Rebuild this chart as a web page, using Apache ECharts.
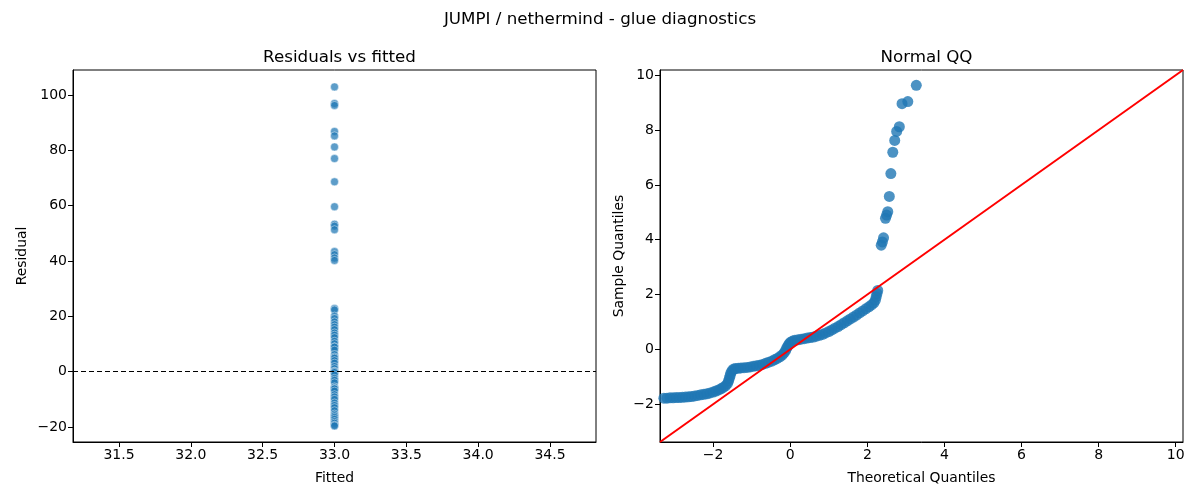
<!DOCTYPE html>
<html>
<head>
<meta charset="utf-8">
<script src="https://cdn.jsdelivr.net/npm/echarts@6/dist/echarts.min.js"></script>
<style>
html, body { margin: 0; padding: 0; background: #fff; }
#chart { width: 1200px; height: 500px; }
</style>
</head>
<body>
<div id="chart"></div>
<script>
// left panel: every residual sits at the same fitted value
var fittedValue = 33.0;
var residuals = [
    102.9, 96.9, 96.2, 86.8, 85.2, 81.2, 77.0, 68.6, 59.6, 53.3, 52.6, 51.3,
    43.4, 42.3, 41.1, 40.2,
    22.8, 22.3, 20.1, 19.2, 18.0, 17.0, 16.1, 15.2, 14.0, 13.2, 12.3, 11.0,
    10.1, 9.0, 8.9, 7.8, 6.2, 5.3, 4.9, 4.0, 3.1, 1.9, 1.1, 0.2, 0.0, -0.3,
    -1.2, -2.4, -3.1, -4.0, -5.5, -6.0, -6.2, -7.0, -8.3, -9.1, -10.0, -11.3,
    -12.2, -13.0, -14.1, -15.3, -15.9, -16.5, -17.2, -18.0, -18.6, -19.3, -19.6
];
var fittedTicks = [31.5, 32.0, 32.5, 33.0, 33.5, 34.0, 34.5];
var residualTicks = [-20, 0, 20, 40, 60, 80, 100];

// right panel: points
var qqTheoretical = [
    -3.28, -3.20, -3.12, -3.04, -2.96, -2.88, -2.80, -2.72, -2.64, -2.56, -2.48, -2.40,
    -2.32, -2.24, -2.16, -2.08, -2.00, -1.93, -1.86, -1.80, -1.74, -1.68, -1.63,
    -1.60, -1.58, -1.56, -1.54, -1.51, -1.47,
    -1.42, -1.35, -1.28, -1.20, -1.12, -1.04, -0.96, -0.88, -0.80, -0.72, -0.64,
    -0.56, -0.48, -0.41, -0.34, -0.27, -0.21,
    -0.16, -0.12, -0.09, -0.06, -0.03, 0.01, 0.06,
    0.12, 0.20, 0.28, 0.36, 0.44, 0.52, 0.60, 0.68, 0.76, 0.84, 0.92, 1.00, 1.08,
    1.16, 1.24, 1.32, 1.40, 1.48, 1.56, 1.64, 1.72, 1.80, 1.88, 1.96, 2.04, 2.11,
    2.17, 2.21, 2.23, 2.25, 2.27,
    2.36, 2.39, 2.42, 2.47, 2.50, 2.53, 2.57, 2.61, 2.66, 2.71, 2.76, 2.83, 2.90,
    3.05, 3.27
];
var qqSample = [
    -1.78, -1.78, -1.77, -1.77, -1.76, -1.76, -1.75, -1.74, -1.73, -1.72, -1.70, -1.68,
    -1.66, -1.64, -1.62, -1.59, -1.56, -1.52, -1.48, -1.44, -1.39, -1.33, -1.25,
    -1.15, -1.05, -0.95, -0.86, -0.78, -0.72,
    -0.70, -0.69, -0.68, -0.67, -0.66, -0.64, -0.62, -0.60, -0.58, -0.55, -0.51,
    -0.47, -0.43, -0.38, -0.33, -0.27, -0.21,
    -0.13, -0.04, 0.05, 0.13, 0.20, 0.26, 0.30,
    0.33, 0.35, 0.37, 0.39, 0.41, 0.43, 0.45, 0.48, 0.51, 0.55, 0.60, 0.65, 0.71,
    0.77, 0.83, 0.90, 0.97, 1.04, 1.11, 1.18, 1.25, 1.33, 1.40, 1.48, 1.55, 1.62,
    1.70, 1.80, 1.92, 2.04, 2.15,
    3.80, 3.92, 4.07, 4.78, 4.90, 5.02, 5.58, 6.41, 7.19, 7.62, 7.95, 8.12, 8.96,
    9.04, 9.63
];
var qqTicks = [-2, 0, 2, 4, 6, 8, 10];
var qqLimits = [-3.38, 10.19];

var FONT = 'DejaVu Sans';

function minus(v, digits) {
    var s = digits ? Math.abs(v).toFixed(digits) : String(Math.abs(v));
    return (v < 0 ? '\u2212' : '') + s;
}

function axis(ticks, fmt, extra) {
    var a = {
        axisLine: { show: true, onZero: false, lineStyle: { color: '#000', width: 1 } },
        axisTick: { show: true, length: 5, lineStyle: { color: '#000', width: 1 }, customValues: ticks },
        axisLabel: { color: '#000', fontSize: 14, fontFamily: FONT, margin: 6, customValues: ticks, formatter: fmt },
        splitLine: { show: false },
        nameLocation: 'middle',
        nameTextStyle: { color: '#000', fontSize: 13.9, fontFamily: FONT }
    };
    for (var k in extra) a[k] = extra[k];
    return a;
}

var residualData = residuals.map(function (r) { return [fittedValue, r]; });
var qqData = qqTheoretical.map(function (t, i) { return [t, qqSample[i]]; });

var chart = echarts.init(document.getElementById('chart'));
var option = {
    animation: false,
    backgroundColor: '#fff',
    title: [
        { text: 'JUMPI / nethermind - glue diagnostics', left: 'center', top: 6,
          textStyle: { fontFamily: FONT, fontWeight: 'normal', fontSize: 16.7, color: '#000' } },
        { text: 'Residuals vs fitted', left: 334.5, textAlign: 'center', top: 44,
          textStyle: { fontFamily: FONT, fontWeight: 'normal', fontSize: 16.7, color: '#000' } },
        { text: 'Normal QQ', left: 921.5, textAlign: 'center', top: 44,
          textStyle: { fontFamily: FONT, fontWeight: 'normal', fontSize: 16.7, color: '#000' } }
    ],
    grid: [
        { left: 73, top: 70, width: 523, height: 372, show: true, borderColor: '#000', borderWidth: 1 },
        { left: 660, top: 70, width: 523, height: 372, show: true, borderColor: '#000', borderWidth: 1 }
    ],
    xAxis: [
        axis(fittedTicks, function (v) { return minus(v, 1); },
            { type: 'value', gridIndex: 0, min: 31.18, max: 34.82, name: 'Fitted', nameGap: 29 }),
        axis(qqTicks, function (v) { return minus(v); },
            { type: 'value', gridIndex: 1, min: qqLimits[0], max: qqLimits[1], name: 'Theoretical Quantiles', nameGap: 29 })
    ],
    yAxis: [
        axis(residualTicks, function (v) { return minus(v); },
            { type: 'value', gridIndex: 0, min: -25.4, max: 109.0, name: 'Residual', nameGap: 44 }),
        axis(qqTicks, function (v) { return minus(v); },
            { type: 'value', gridIndex: 1, min: qqLimits[0], max: qqLimits[1], name: 'Sample Quantiles', nameGap: 34 })
    ],
    series: [
        {
            type: 'scatter', xAxisIndex: 0, yAxisIndex: 0,
            data: residualData,
            symbolSize: 8,
            itemStyle: { color: '#1f77b4', opacity: 0.72, borderColor: '#fff', borderWidth: 0.6 },
            markLine: {
                silent: true,
                symbol: ['none', 'none'],
                label: { show: false },
                lineStyle: { color: '#000', type: [5, 3], width: 1 },
                data: [{ yAxis: 0 }]
            }
        },
        {
            type: 'scatter', xAxisIndex: 1, yAxisIndex: 1,
            data: qqData,
            symbolSize: 11,
            itemStyle: { color: '#1f77b4' }
        },
        {
            type: 'line', xAxisIndex: 1, yAxisIndex: 1,
            data: [[qqLimits[0], qqLimits[0]], [qqLimits[1], qqLimits[1]]],
            symbol: 'none',
            lineStyle: { color: '#ff0000', width: 2 },
            z: 3
        }
    ]
};
chart.setOption(option);
</script>
</body>
</html>
